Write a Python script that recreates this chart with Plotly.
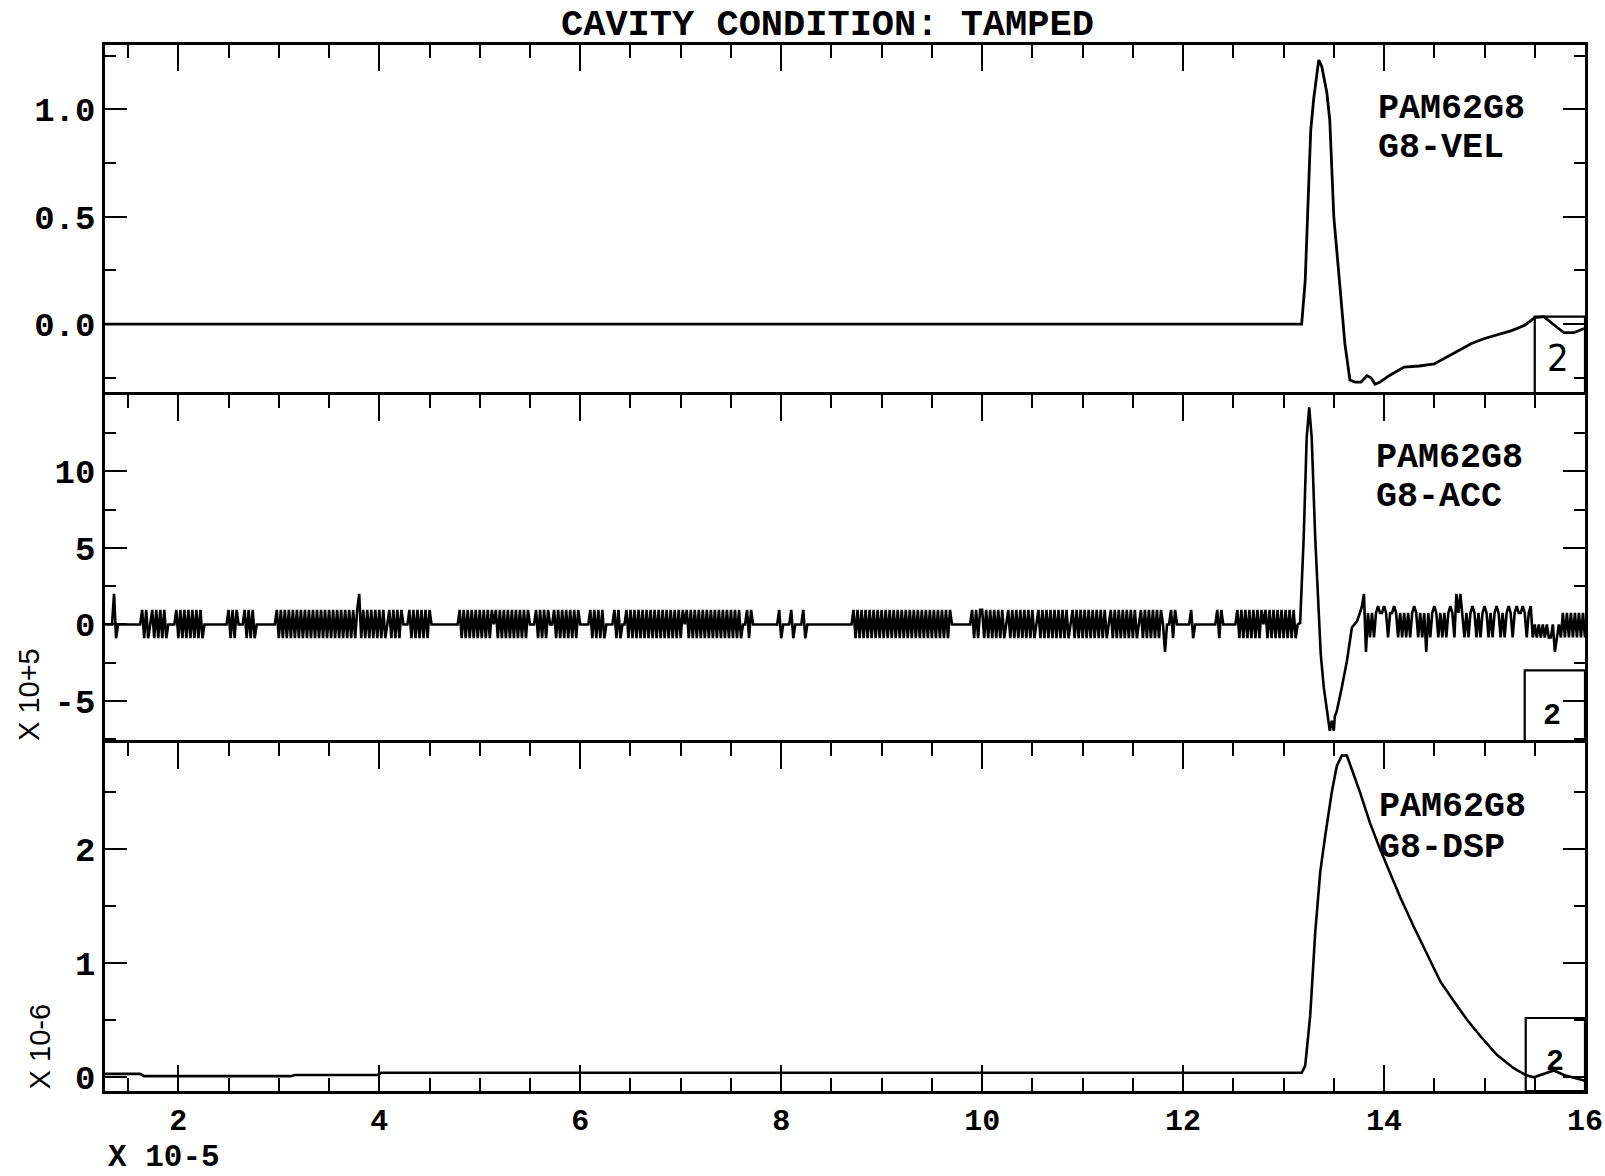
import plotly.graph_objects as go

# ---------------- shared time axis (units of 1e-5 s) ----------------
X_MIN, X_MAX = 1.27, 16.0
X_MAJOR_DTICK, X_MINOR_DTICK = 2, 0.5

# ---------------- G8-VEL (top panel) ----------------
VEL_X = [1.27, 13.18, 13.215, 13.27, 13.30, 13.35, 13.38, 13.43, 13.46, 13.50,
         13.56, 13.61, 13.66, 13.71, 13.77, 13.83, 13.87, 13.91, 13.96, 14.05,
         14.20, 14.35, 14.50, 14.60, 14.75, 14.87, 15.00, 15.13, 15.27, 15.40,
         15.50, 15.59, 15.72, 15.79, 15.89, 15.99]
VEL_Y = [0.0, 0.0, 0.20, 0.90, 1.05, 1.23, 1.20, 1.08, 0.95, 0.50,
         0.18, -0.09, -0.26, -0.27, -0.27, -0.24, -0.25, -0.28, -0.27, -0.24,
         -0.20, -0.195, -0.185, -0.16, -0.12, -0.09, -0.067, -0.05, -0.03, -0.005,
         0.03, 0.035, -0.015, -0.04, -0.04, -0.02]

# ---------------- G8-ACC (middle panel) ----------------
# Sampled record: one character per sample, step ACC_DX.
ACC_DX = 0.02
ACC_LEVELS = {"0": 0.0, "+": 0.95, "-": -0.9, "^": 2.0, "v": -1.8,
              "p": 0.75, "q": 1.2, "n": -0.85}

ACC_PRE_START, ACC_PRE_COUNT, ACC_PRE_BASE = 1.30, 593, "0"
ACC_PRE_BURSTS = [
    (1.36, "^-"),
    (1.65, "+-+-"),
    (1.74, "+-+-+-+-"),
    (1.98, "+-+-+-+-+-+-+-"),
    (2.49, "+-+-+"),
    (2.67, "+-+-+-"),
    (2.98, "+-+-+-+-+-" "+-+-+-+-+-" "+-+-+-+-+-" "+-+-+-+-+-" "+"),
    (3.80, "^-+-+-+-+-+-+-0+-+-+-+"),
    (4.31, "+-+-+-+-+-+"),
    (4.80, "+-+-+-+-+-+-+-+-+0+-+-+-+-+-+-+-+-+"),
    (5.56, "+-+-+-+"),
    (5.73, "+-+-+-+-+-+-+"),
    (6.09, "+-+-+-+-"),
    (6.34, "+-+-"),
    (6.45, "+-+-+-+-+-" "+-+-+-+-+-" "+-+-+-+-+"),
    (7.07, "+-+-+-+-+-" "+-+-+-+-+-" "+-+-+-+-"),
    (7.65, "+-+"),
    (7.98, "+-"),
    (8.10, "+-"),
    (8.22, "+-"),
    (8.71, "+-+-+-+-+-" "+-+-+-+-+-" "+-+-+-+-+-" "+-+-+-+-+-" "+-+-+-+-+"),
    (9.89, "+-+-+"),
    (10.01, "+-+-+-+-+-+-0+-+-+-+-+-+-+-0+-+-+-+-+-+-+-+-0"
            "+-+-+-+-+-+-+-+-+-0+-+-+-+-+-+-+-0+-+-+-+-+-+"),
    (11.82, "v"),
    (11.88, "+-+"),
    (12.08, "+-"),
    (12.35, "+-+"),
    (12.54, "+-+-+-+-+-+-+"),
    (12.83, "+-+-+-+-+-+-+-+-"),
]

ACC_PEAK_X = [13.165, 13.20, 13.23, 13.255, 13.28, 13.315, 13.35, 13.37, 13.40,
              13.43, 13.46, 13.48, 13.50, 13.51, 13.53, 13.58, 13.63, 13.68, 13.73]
ACC_PEAK_Y = [0.1, 5.65, 12.2, 14.2, 12.2, 5.65, 0.2, -1.95, -4.1,
              -5.65, -6.95, -6.3, -6.95, -6.0, -5.65, -4.1, -2.4, -0.2, 0.2]

ACC_POST_START = 13.76
ACC_POST = ("pq^vpnpnpq" "ppqpnppqpn" "pnpnpnpqpn" "pnpvpnpqpn" "pnpnpqpn^p"
            "^pnpnpqpnp" "npqpnpnpqp" "npnpqpnpqp" "pqpnpqn0n0" "n0n0nn0vn0"
            "npnpnpnpnpnpn")

# ---------------- G8-DSP (bottom panel) ----------------
DSP_X = [1.27, 1.62, 1.66, 3.12, 3.16, 3.98, 4.02, 13.18, 13.215, 13.265,
         13.315, 13.365, 13.41, 13.48, 13.53, 13.58, 13.63, 13.68, 13.76, 13.86,
         13.96, 14.06, 14.16, 14.29, 14.43, 14.56, 14.70, 14.83, 14.96, 15.12,
         15.29, 15.41, 15.49, 15.62, 15.69, 15.79, 15.95, 16.0]
DSP_Y = [0.03, 0.03, 0.01, 0.01, 0.02, 0.02, 0.04, 0.04, 0.10, 0.54,
         1.27, 1.80, 2.09, 2.50, 2.73, 2.82, 2.82, 2.70, 2.50, 2.23,
         2.00, 1.79, 1.58, 1.33, 1.08, 0.84, 0.66, 0.50, 0.36, 0.20,
         0.08, 0.02, 0.0, 0.04, 0.06, 0.02, -0.02, -0.03]


# ---------------- assemble the acceleration record ----------------
def decode(start, count, base, bursts):
    codes = [base] * count
    for x0, pattern in bursts:
        i0 = round((x0 - start) / ACC_DX)
        for k, ch in enumerate(pattern):
            if 0 <= i0 + k < count:
                codes[i0 + k] = ch
    xs = [start + ACC_DX * i for i in range(count)]
    ys = [ACC_LEVELS[c] for c in codes]
    return xs, ys


pre_x, pre_y = decode(ACC_PRE_START, ACC_PRE_COUNT, ACC_PRE_BASE, ACC_PRE_BURSTS)
post_x, post_y = decode(ACC_POST_START, len(ACC_POST), "p", [(ACC_POST_START, ACC_POST)])
acc_x = [X_MIN] + pre_x + ACC_PEAK_X + post_x
acc_y = [0.0] + pre_y + ACC_PEAK_Y + post_y

# ---------------- styling ----------------
MONO = "Liberation Mono, Courier New, monospace"
SANS = "Liberation Sans, Arial, sans-serif"
NARROW = "Liberation Sans Narrow, DejaVu Sans Condensed, Liberation Sans, sans-serif"
INK = "black"
X_TICK_FONT = dict(family=MONO, size=30, color=INK, weight="bold")
Y_TICK_FONT = dict(family=MONO, size=34, color=INK, weight="bold")

# vertical layout (paper fractions)
P3 = [0.0, 0.3327]
P2 = [0.3327, 0.6654]
P1 = [0.6654, 1.0]


def x_axis(anchor, side, labels, mirror):
    return dict(
        range=[X_MIN, X_MAX], domain=[0, 1], anchor=anchor, side=side,
        automargin=False,
        showline=True, linecolor=INK, linewidth=2.6, mirror=mirror,
        ticks="inside", tickmode="linear", tick0=0, dtick=X_MAJOR_DTICK,
        ticklen=26, tickwidth=2.4, tickcolor=INK,
        minor=dict(ticks="inside", tickmode="linear", tick0=0, dtick=X_MINOR_DTICK,
                   ticklen=13, tickwidth=2.2, tickcolor=INK, showgrid=False),
        showticklabels=labels, tickfont=X_TICK_FONT, ticklabelstandoff=0,
        ticklabeloverflow="allow",
        showgrid=False, zeroline=False,
    )


def y_axis(anchor, domain, rng, major, minor):
    return dict(
        range=rng, domain=domain, anchor=anchor, side="left",
        automargin=False,
        showline=True, linecolor=INK, linewidth=2.6, mirror="allticks",
        ticks="inside", ticklen=22, tickwidth=2.4, tickcolor=INK,
        tickmode="array", tickvals=major[0], ticktext=major[1],
        minor=dict(ticks="inside", tickmode="linear", tick0=0, dtick=minor,
                   ticklen=11, tickwidth=2.2, tickcolor=INK, showgrid=False),
        tickfont=Y_TICK_FONT, ticklabelstandoff=0,
        showgrid=False, zeroline=False,
    )


fig = go.Figure()
fig.add_trace(go.Scatter(x=VEL_X, y=VEL_Y, mode="lines", xaxis="x", yaxis="y",
                         line=dict(color=INK, width=2.8), showlegend=False,
                         hoverinfo="skip"))
fig.add_trace(go.Scatter(x=acc_x, y=acc_y, mode="lines", xaxis="x2", yaxis="y2",
                         line=dict(color=INK, width=2.6), showlegend=False,
                         hoverinfo="skip"))
fig.add_trace(go.Scatter(x=DSP_X, y=DSP_Y, mode="lines", xaxis="x3", yaxis="y3",
                         line=dict(color=INK, width=2.6), showlegend=False,
                         hoverinfo="skip"))

fig.update_layout(
    width=1605, height=1176,
    margin=dict(l=105, r=20, t=45, b=85, autoexpand=False),
    paper_bgcolor="white", plot_bgcolor="white",
    # upper panels carry their time ticks along their top edge only
    xaxis=x_axis("y", "top", False, False),
    xaxis2=x_axis("y2", "top", False, False),
    xaxis3=x_axis("y3", "bottom", True, "allticks"),
    yaxis=y_axis("x", P1, [-0.33, 1.30],
                 ([0.0, 0.5, 1.0], ["0.0", "0.5", "1.0"]), 0.25),
    yaxis2=y_axis("x2", P2, [-7.75, 15.0],
                  ([-5, 0, 5, 10], ["-5", "0", "5", "10"]), 2.5),
    yaxis3=y_axis("x3", P3, [-0.12, 2.93],
                  ([0, 1, 2], ["0", "1", "2"]), 0.5),
)

# inset boxes marking the second record segment
BOXES = [("x", "y", 15.50, -0.33, 0.035),
         ("x2", "y2", 15.40, -7.75, -3.0),
         ("x3", "y3", 15.41, -0.12, 0.52)]
for xr, yr, x0, y0, y1 in BOXES:
    fig.add_shape(type="rect", xref=xr, yref=yr, x0=x0, x1=X_MAX, y0=y0, y1=y1,
                  line=dict(color=INK, width=2.2), fillcolor="rgba(0,0,0,0)")

annotations = [
    # title
    dict(text="CAVITY CONDITION: TAMPED", xref="paper", yref="paper",
         x=0.488, y=1.019, xanchor="center", yanchor="middle",
         font=dict(family=MONO, size=37, color=INK, weight="bold")),
    # x-axis multiplier
    dict(text="X 10-5", xref="paper", yref="paper", x=0.0014, y=-85 / 1046,
         xanchor="left", yanchor="bottom", borderpad=0,
         font=dict(family=MONO, size=31, color=INK, weight="bold")),
    # y-axis multipliers
    dict(text="X 10+5", xref="paper", yref="paper", x=-0.051, y=P2[0],
         xanchor="center", yanchor="bottom", textangle=-90,
         font=dict(family=SANS, size=29, color=INK)),
    dict(text="X 10-6", xref="paper", yref="paper", x=-0.044, y=P3[0],
         xanchor="center", yanchor="bottom", textangle=-90,
         font=dict(family=SANS, size=29, color=INK)),
]

CHANNELS = [("x", "y", 13.92, 1.00, 0.82, "G8-VEL"),
            ("x2", "y2", 13.90, 10.9, 8.3, "G8-ACC"),
            ("x3", "y3", 13.93, 2.37, 2.01, "G8-DSP")]
for xr, yr, xl, y_top, y_bot, name in CHANNELS:
    for txt, yy in (("PAM62G8", y_top), (name, y_bot)):
        annotations.append(dict(
            text=txt, xref=xr, yref=yr, x=xl, y=yy, xanchor="left",
            yanchor="middle",
            font=dict(family=MONO, size=35, color=INK, weight="bold")))

SEGMENT_TAGS = [("x", "y", 15.73, -0.16, dict(family=NARROW, size=38, color=INK)),
                ("x2", "y2", 15.67, -5.98, dict(family=MONO, size=30, color=INK, weight="bold")),
                ("x3", "y3", 15.70, 0.13, dict(family=MONO, size=30, color=INK, weight="bold"))]
for xr, yr, xx, yy, f in SEGMENT_TAGS:
    annotations.append(dict(text="2", xref=xr, yref=yr, x=xx, y=yy,
                            xanchor="center", yanchor="middle", font=f))

for a in annotations:
    a["showarrow"] = False
fig.update_layout(annotations=annotations)

fig.write_html("out.html")
